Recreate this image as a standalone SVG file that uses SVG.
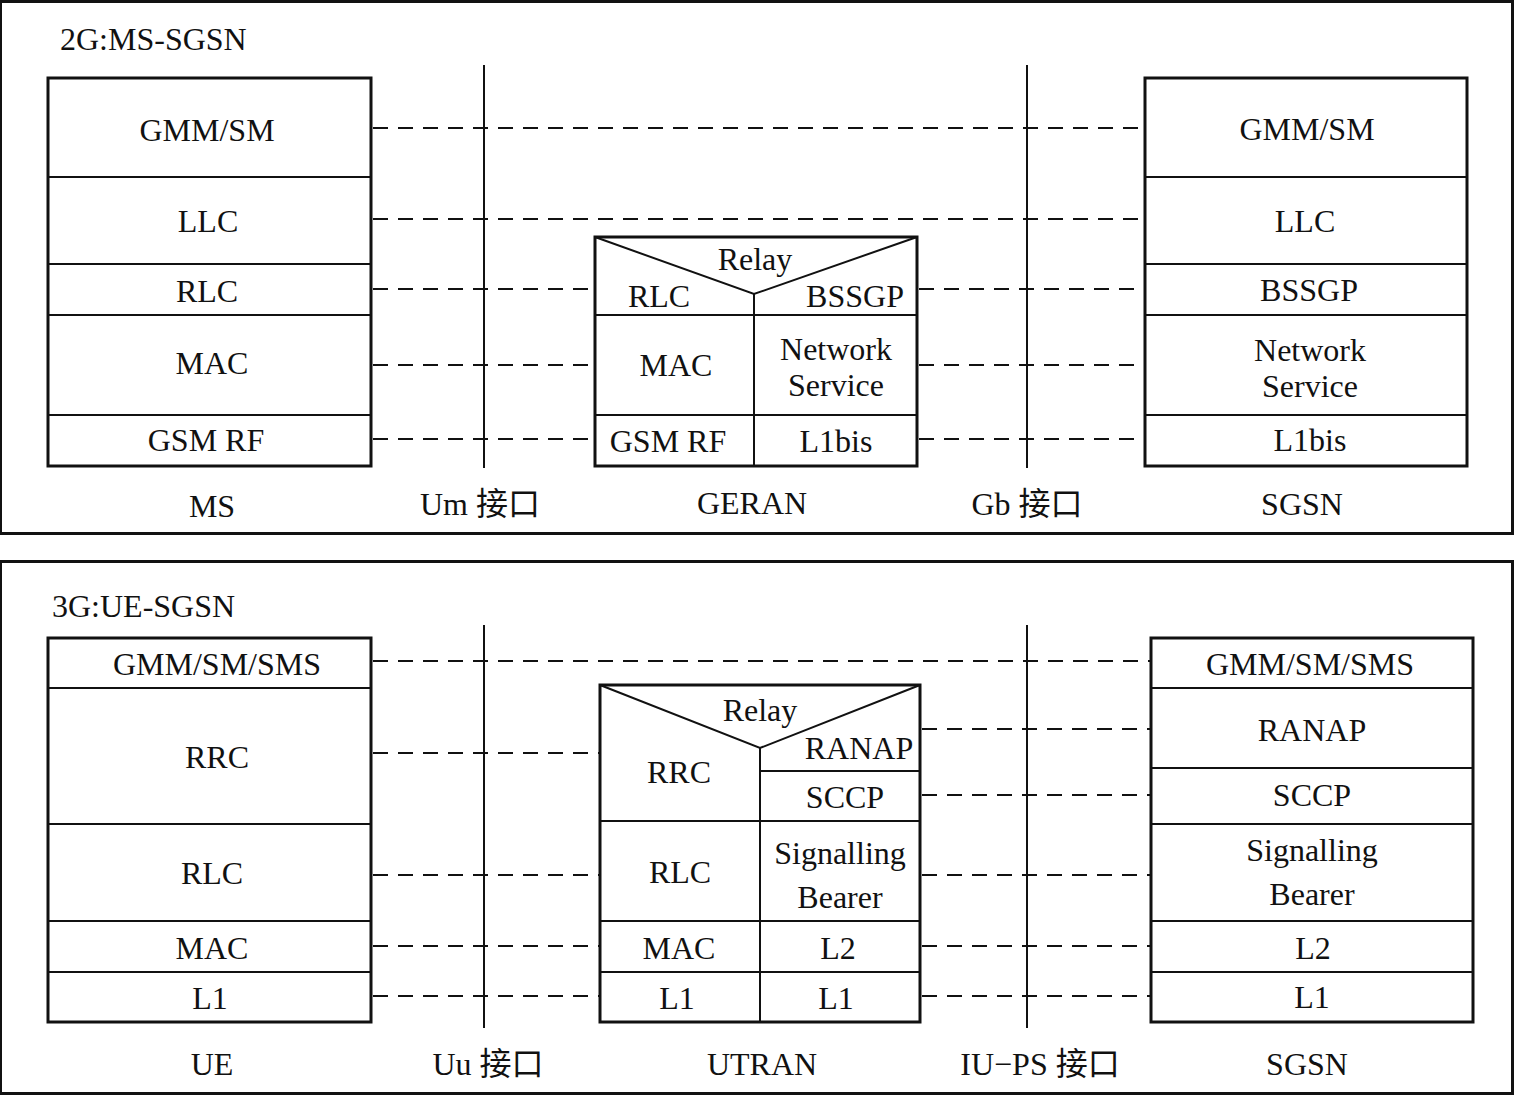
<svg xmlns="http://www.w3.org/2000/svg" width="1515" height="1097" viewBox="0 0 1515 1097">
<style>
text{font-family:"Liberation Serif","Times New Roman","Noto Sans CJK SC",serif;font-size:32px;fill:#111;text-anchor:middle}
.t{text-anchor:start}
.frame{fill:none;stroke:#111;stroke-width:3}
.box{fill:none;stroke:#111;stroke-width:3}
.div{stroke:#111;stroke-width:2;fill:none}
.iface{stroke:#111;stroke-width:2}
.dash{stroke:#111;stroke-width:2.2;stroke-dasharray:15 10;fill:none}
.cjk{font-family:"Liberation Serif","Noto Sans CJK SC",serif}
</style>
<rect width="1515" height="1097" fill="#fff"/>
<g id="panel-2g">
<rect class="frame" x="0.5" y="1.5" width="1512" height="532"/>
<text class="t" x="60" y="50">2G:MS-SGSN</text>
</g>
<g id="panel-3g">
<rect class="frame" x="0.5" y="561.5" width="1512" height="532"/>
<text class="t" x="52" y="617">3G:UE-SGSN</text>
</g>
<g id="interfaces">
<line class="iface" x1="484" y1="65" x2="484" y2="468"/>
<line class="iface" x1="1027" y1="65" x2="1027" y2="468"/>
<line class="iface" x1="484" y1="625" x2="484" y2="1028"/>
<line class="iface" x1="1027" y1="625" x2="1027" y2="1028"/>
</g>
<g id="connectors">
<line class="dash" x1="373" y1="128" x2="1145" y2="128"/>
<line class="dash" x1="373" y1="219" x2="1145" y2="219"/>
<line class="dash" x1="373" y1="289" x2="595" y2="289"/>
<line class="dash" x1="919" y1="289" x2="1145" y2="289"/>
<line class="dash" x1="373" y1="365" x2="595" y2="365"/>
<line class="dash" x1="919" y1="365" x2="1145" y2="365"/>
<line class="dash" x1="373" y1="439" x2="595" y2="439"/>
<line class="dash" x1="919" y1="439" x2="1145" y2="439"/>
<line class="dash" x1="373" y1="661" x2="1151" y2="661"/>
<line class="dash" x1="373" y1="753" x2="600" y2="753"/>
<line class="dash" x1="922" y1="729" x2="1151" y2="729"/>
<line class="dash" x1="922" y1="795" x2="1151" y2="795"/>
<line class="dash" x1="373" y1="875" x2="600" y2="875"/>
<line class="dash" x1="922" y1="875" x2="1151" y2="875"/>
<line class="dash" x1="373" y1="946" x2="600" y2="946"/>
<line class="dash" x1="922" y1="946" x2="1151" y2="946"/>
<line class="dash" x1="373" y1="996" x2="600" y2="996"/>
<line class="dash" x1="922" y1="996" x2="1151" y2="996"/>
</g>
<g id="ms">
<rect class="box" x="48" y="78" width="323" height="388"/>
<path class="div" d="M48 177H371M48 264H371M48 315H371M48 415H371"/>
<text x="207" y="141">GMM/SM</text>
<text x="208" y="232">LLC</text>
<text x="207" y="302">RLC</text>
<text x="212" y="374">MAC</text>
<text x="206" y="451">GSM RF</text>
<text x="212" y="517">MS</text>
</g>
<g id="geran">
<rect class="box" x="595" y="237" width="322" height="229"/>
<path class="div" d="M595 237L754 294L917 237M754 294V466M595 315H917M595 415H917"/>
<text x="755" y="270">Relay</text>
<text x="659" y="307">RLC</text>
<text x="855" y="307">BSSGP</text>
<text x="676" y="376">MAC</text>
<text x="836" y="360">Network</text>
<text x="836" y="396">Service</text>
<text x="668" y="452">GSM RF</text>
<text x="836" y="452">L1bis</text>
<text x="752" y="514">GERAN</text>
</g>
<g id="sgsn-2g">
<rect class="box" x="1145" y="78" width="322" height="388"/>
<path class="div" d="M1145 177H1467M1145 264H1467M1145 315H1467M1145 415H1467"/>
<text x="1307" y="140">GMM/SM</text>
<text x="1305" y="232">LLC</text>
<text x="1309" y="301">BSSGP</text>
<text x="1310" y="361">Network</text>
<text x="1310" y="397">Service</text>
<text x="1310" y="451">L1bis</text>
<text x="1302" y="515">SGSN</text>
</g>
<g id="labels-2g">
<text class="cjk" x="480" y="515">Um 接口</text>
<text class="cjk" x="1027" y="515">Gb 接口</text>
</g>
<g id="ue">
<rect class="box" x="48" y="638" width="323" height="384"/>
<path class="div" d="M48 688H371M48 824H371M48 921H371M48 972H371"/>
<text x="217" y="675">GMM/SM/SMS</text>
<text x="217" y="768">RRC</text>
<text x="212" y="884">RLC</text>
<text x="212" y="959">MAC</text>
<text x="210" y="1009">L1</text>
<text x="212" y="1075">UE</text>
</g>
<g id="utran">
<rect class="box" x="600" y="685" width="320" height="337"/>
<path class="div" d="M600 685L760 748L920 685M760 748V1022M760 771H920M600 821H920M600 921H920M600 972H920"/>
<text x="760" y="721">Relay</text>
<text x="679" y="783">RRC</text>
<text x="859" y="759">RANAP</text>
<text x="845" y="808">SCCP</text>
<text x="680" y="883">RLC</text>
<text x="840" y="864">Signalling</text>
<text x="840" y="908">Bearer</text>
<text x="679" y="959">MAC</text>
<text x="838" y="959">L2</text>
<text x="677" y="1009">L1</text>
<text x="836" y="1009">L1</text>
<text x="762" y="1075">UTRAN</text>
</g>
<g id="sgsn-3g">
<rect class="box" x="1151" y="638" width="322" height="384"/>
<path class="div" d="M1151 688H1473M1151 768H1473M1151 824H1473M1151 921H1473M1151 972H1473"/>
<text x="1310" y="675">GMM/SM/SMS</text>
<text x="1312" y="741">RANAP</text>
<text x="1312" y="806">SCCP</text>
<text x="1312" y="861">Signalling</text>
<text x="1312" y="905">Bearer</text>
<text x="1313" y="959">L2</text>
<text x="1312" y="1008">L1</text>
<text x="1307" y="1075">SGSN</text>
</g>
<g id="labels-3g">
<text class="cjk" x="488" y="1075">Uu 接口</text>
<text class="cjk" x="1040" y="1075">IU−PS 接口</text>
</g>
</svg>
